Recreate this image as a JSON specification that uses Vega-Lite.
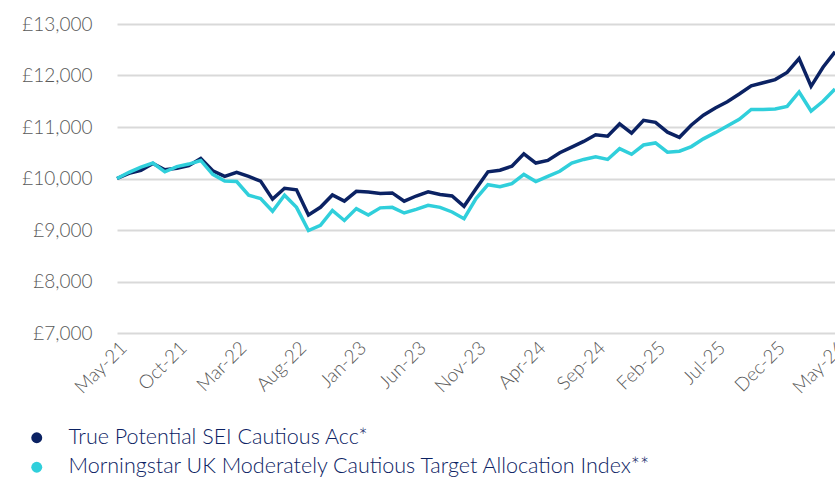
{
  "$schema": "https://vega.github.io/schema/vega-lite/v6.json",
  "autosize": "none",
  "width": 718,
  "height": 309,
  "padding": {"left": 117, "top": 24, "right": 0, "bottom": 147},
  "background": "white",
  "config": {"view": {"stroke": null}, "font": "Lato"},
  "datasets": {
    "raw": [
      {"m":"May-21","sei":10000,"idx":10000},{"m":"Jun-21","sei":10100,"idx":10120},{"m":"Jul-21","sei":10160,"idx":10220},{"m":"Aug-21","sei":10290,"idx":10300},{"m":"Sep-21","sei":10170,"idx":10130},
      {"m":"Oct-21","sei":10200,"idx":10230},{"m":"Nov-21","sei":10250,"idx":10280},{"m":"Dec-21","sei":10390,"idx":10350},{"m":"Jan-22","sei":10150,"idx":10080},{"m":"Feb-22","sei":10040,"idx":9950},
      {"m":"Mar-22","sei":10120,"idx":9940},{"m":"Apr-22","sei":10040,"idx":9675},{"m":"May-22","sei":9950,"idx":9610},{"m":"Jun-22","sei":9600,"idx":9365},{"m":"Jul-22","sei":9810,"idx":9675},
      {"m":"Aug-22","sei":9780,"idx":9440},{"m":"Sep-22","sei":9290,"idx":8990},{"m":"Oct-22","sei":9440,"idx":9090},{"m":"Nov-22","sei":9680,"idx":9380},{"m":"Dec-22","sei":9560,"idx":9185},
      {"m":"Jan-23","sei":9750,"idx":9415},{"m":"Feb-23","sei":9740,"idx":9290},{"m":"Mar-23","sei":9710,"idx":9430},{"m":"Apr-23","sei":9720,"idx":9440},{"m":"May-23","sei":9560,"idx":9330},
      {"m":"Jun-23","sei":9660,"idx":9400},{"m":"Jul-23","sei":9740,"idx":9480},{"m":"Aug-23","sei":9690,"idx":9440},{"m":"Sep-23","sei":9660,"idx":9350},{"m":"Oct-23","sei":9460,"idx":9220},
      {"m":"Nov-23","sei":9800,"idx":9610},{"m":"Dec-23","sei":10130,"idx":9880},{"m":"Jan-24","sei":10160,"idx":9840},{"m":"Feb-24","sei":10240,"idx":9900},{"m":"Mar-24","sei":10480,"idx":10080},
      {"m":"Apr-24","sei":10300,"idx":9940},{"m":"May-24","sei":10350,"idx":10040},{"m":"Jun-24","sei":10500,"idx":10140},{"m":"Jul-24","sei":10610,"idx":10300},{"m":"Aug-24","sei":10720,"idx":10370},
      {"m":"Sep-24","sei":10850,"idx":10420},{"m":"Oct-24","sei":10820,"idx":10370},{"m":"Nov-24","sei":11060,"idx":10580},{"m":"Dec-24","sei":10880,"idx":10470},{"m":"Jan-25","sei":11130,"idx":10650},
      {"m":"Feb-25","sei":11090,"idx":10690},{"m":"Mar-25","sei":10900,"idx":10510},{"m":"Apr-25","sei":10800,"idx":10530},{"m":"May-25","sei":11040,"idx":10620},{"m":"Jun-25","sei":11230,"idx":10770},
      {"m":"Jul-25","sei":11370,"idx":10890},{"m":"Aug-25","sei":11490,"idx":11020},{"m":"Sep-25","sei":11640,"idx":11150},{"m":"Oct-25","sei":11800,"idx":11340},{"m":"Nov-25","sei":11860,"idx":11340},
      {"m":"Dec-25","sei":11920,"idx":11350},{"m":"Jan-26","sei":12060,"idx":11400},{"m":"Feb-26","sei":12330,"idx":11680},{"m":"Mar-26","sei":11790,"idx":11310},{"m":"Apr-26","sei":12160,"idx":11500},
      {"m":"May-26","sei":12460,"idx":11740}
    ]
  },
  "data": {"name": "raw"},
  "transform": [
    {"fold": ["sei", "idx"], "as": ["key", "value"]},
    {"calculate": "datum.key === 'sei' ? 'True Potential SEI Cautious Acc*' : 'Morningstar UK Moderately Cautious Target Allocation Index**'", "as": "series"}
  ],
  "mark": {"type": "line", "strokeWidth": 3.5, "strokeJoin": "miter", "clip": false},
  "encoding": {
    "x": {
      "field": "m", "type": "ordinal", "sort": null,
      "scale": {"type": "point", "padding": 0},
      "axis": {
        "title": null,
        "values": ["May-21","Oct-21","Mar-22","Aug-22","Jan-23","Jun-23","Nov-23","Apr-24","Sep-24","Feb-25","Jul-25","Dec-25","May-26"],
        "labelAngle": -45, "labelAlign": "right", "labelBaseline": "top",
        "labelFontSize": 19, "labelColor": "#595959", "labelFont": "Lato", "labelFontWeight": 300,
        "ticks": false, "domain": false, "grid": false, "labelPadding": 5
      }
    },
    "y": {
      "field": "value", "type": "quantitative",
      "scale": {"domain": [7000, 13000], "nice": false, "zero": false},
      "axis": {
        "title": null, "values": [7000, 8000, 9000, 10000, 11000, 12000, 13000],
        "labelExpr": "'£' + format(datum.value, ',')",
        "labelFontSize": 19, "labelColor": "#595959", "labelFont": "Lato", "labelFontWeight": 300,
        "ticks": false, "domain": false, "gridColor": "#d9d9d9", "gridWidth": 2, "labelPadding": 25
      }
    },
    "color": {
      "field": "series", "type": "nominal",
      "scale": {
        "domain": ["True Potential SEI Cautious Acc*", "Morningstar UK Moderately Cautious Target Allocation Index**"],
        "range": ["#0b2263", "#30cfdb"]
      },
      "legend": {
        "title": null, "orient": "none", "legendX": -91, "legendY": 403,
        "direction": "vertical", "symbolType": "circle", "symbolSize": 120,
        "labelFontSize": 21.5, "labelColor": "#0b2263", "labelFont": "Lato", "labelFontWeight": 300,
        "rowPadding": 6.5, "labelOffset": 21, "labelLimit": 800,
        "encode": {
          "symbols": {"update": {"fill": {"scale": "color", "field": "value"}, "strokeWidth": {"value": 0}, "opacity": {"value": 1}}}
        }
      }
    }
  }
}
